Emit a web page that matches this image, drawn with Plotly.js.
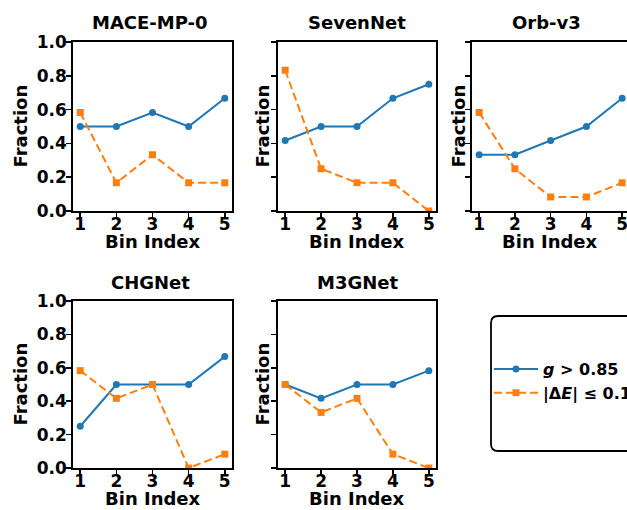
<!DOCTYPE html>
<html>
<head>
<meta charset="utf-8">
<script src="https://cdn.plot.ly/plotly-3.0.1.min.js"></script>
<style>
html, body { margin: 0; padding: 0; overflow: hidden; background: #fff; }
#chart { width: 627px; height: 510px; }
</style>
</head>
<body>
<div id="chart"></div>
<script>
// ---- data ----
const binIndex = [1, 2, 3, 4, 5];
const models = ["MACE-MP-0", "SevenNet", "Orb-v3", "CHGNet", "M3GNet"];
const gFracMACE     = [0.5, 0.5, 0.583, 0.5, 0.667];
const eFracMACE     = [0.583, 0.167, 0.333, 0.167, 0.167];
const gFracSevenNet = [0.417, 0.5, 0.5, 0.667, 0.75];
const eFracSevenNet = [0.833, 0.25, 0.167, 0.167, 0.0];
const gFracOrb      = [0.333, 0.333, 0.417, 0.5, 0.667];
const eFracOrb      = [0.583, 0.25, 0.083, 0.083, 0.167];
const gFracCHGNet   = [0.25, 0.5, 0.5, 0.5, 0.667];
const eFracCHGNet   = [0.583, 0.417, 0.5, 0.0, 0.083];
const gFracM3GNet   = [0.5, 0.417, 0.5, 0.5, 0.583];
const eFracM3GNet   = [0.5, 0.333, 0.417, 0.083, 0.0];
const yTickVals = [0, 0.2, 0.4, 0.6, 0.8, 1.0];
const yTickText = ["0.0", "0.2", "0.4", "0.6", "0.8", "1.0"];
const legendG = "<i>g</i> > 0.85";
const legendE = "|Δ<i>E</i>| ≤ 0.1 eV/atom";

const gSeries = [gFracMACE, gFracSevenNet, gFracOrb, gFracCHGNet, gFracM3GNet];
const eSeries = [eFracMACE, eFracSevenNet, eFracOrb, eFracCHGNet, eFracM3GNet];

// ---- layout geometry (pixels) ----
const W = 627, H = 510;
const panels = [
  {l: 73,  r: 232, t: 42,  b: 211, ylab: true,  fx: 20,  xmax: 5.2,   mirror: true},
  {l: 278, r: 436, t: 42,  b: 211, ylab: false, fx: 262, xmax: 5.2,   mirror: true},
  {l: 472, r: 627, t: 42,  b: 211, ylab: false, fx: 458, xmax: 5.136, mirror: false},
  {l: 73,  r: 232, t: 301, b: 468, ylab: true,  fx: 20,  xmax: 5.2,   mirror: true},
  {l: 278, r: 436, t: 301, b: 468, ylab: false, fx: 262, xmax: 5.2,   mirror: true}
];
const titleX = [150, 357, 546, 150, 357];

const BLUE = "#1f77b4", ORANGE = "#ff7f0e";
const FONT = "DejaVu Sans, Arial, sans-serif";
const px = v => v / W, py = v => 1 - v / H;

const traces = [];
const layout = {
  width: W, height: H,
  margin: {l: 0, r: 0, t: 0, b: 0, autoexpand: false},
  paper_bgcolor: "#fff", plot_bgcolor: "#fff",
  font: {family: FONT, color: "#000"},
  showlegend: true,
  legend: {
    x: px(489), y: py(352), xanchor: "left", yanchor: "top",
    bgcolor: "rgba(0,0,0,0)", borderwidth: 0,
    font: {family: FONT, size: 16, weight: "bold", color: "#000"},
    tracegroupgap: 0, itemwidth: 44
  },
  annotations: [],
  shapes: []
};

panels.forEach((p, i) => {
  const k = i + 1;
  const xa = "xaxis" + (k === 1 ? "" : k), ya = "yaxis" + (k === 1 ? "" : k);
  const xr = "x" + (k === 1 ? "" : k), yr = "y" + (k === 1 ? "" : k);
  layout[xa] = {
    domain: [px(p.l), px(p.r)], anchor: yr, range: [0.8, p.xmax],
    tickvals: binIndex, ticktext: binIndex.map(String),
    ticks: "outside", ticklen: 5, tickwidth: 1.5, tickcolor: "#000",
    ticklabelstandoff: -8, ticklabeloverflow: "allow",
    showline: true, linewidth: 1.8, linecolor: "#000", mirror: true,
    showgrid: false, zeroline: false, automargin: false,
    tickfont: {family: FONT, size: 17, weight: "bold", color: "#000"}
  };
  layout[ya] = {
    domain: [py(p.b), py(p.t)], anchor: xr, range: [0, 1],
    tickvals: yTickVals, ticktext: yTickText, showticklabels: p.ylab,
    ticks: "outside", ticklen: 5, tickwidth: 1.5, tickcolor: "#000",
    ticklabelstandoff: -4, ticklabeloverflow: "allow",
    showline: true, linewidth: 1.8, linecolor: "#000", mirror: p.mirror,
    showgrid: false, zeroline: false, automargin: false,
    tickfont: {family: FONT, size: 17, weight: "bold", color: "#000"}
  };
  traces.push({
    type: "scatter", mode: "lines+markers", x: binIndex, y: gSeries[i],
    xaxis: xr, yaxis: yr, name: legendG, legendgroup: "g", showlegend: i === 0,
    line: {color: BLUE, width: 2},
    marker: {color: BLUE, size: 7, symbol: "circle"}
  });
  traces.push({
    type: "scatter", mode: "lines+markers", x: binIndex, y: eSeries[i],
    xaxis: xr, yaxis: yr, name: legendE, legendgroup: "e", showlegend: i === 0,
    line: {color: ORANGE, width: 2, dash: "8px,4px"},
    marker: {color: ORANGE, size: 7, symbol: "square"}
  });
  layout.annotations.push({
    text: models[i], xref: "paper", yref: "paper",
    x: px(titleX[i]), y: py(p.t - 19), xanchor: "center", yanchor: "middle",
    showarrow: false, font: {family: FONT, size: 18, weight: "bold", color: "#000"}
  });
  layout.annotations.push({
    text: "Bin Index", xref: "paper", yref: "paper",
    x: px((p.l + p.r) / 2), y: py(p.b + 30), xanchor: "center", yanchor: "middle",
    showarrow: false, font: {family: FONT, size: 18, weight: "bold", color: "#000"}
  });
  layout.annotations.push({
    text: "Fraction", xref: "paper", yref: "paper", textangle: -90,
    x: px(p.fx), y: py((p.t + p.b) / 2), xanchor: "center", yanchor: "middle",
    showarrow: false, font: {family: FONT, size: 18, weight: "bold", color: "#000"}
  });
});

// rounded legend frame
(function () {
  const x0 = 491, x1 = 700, y0 = 316, y1 = 451, r = 7;
  const path = [
    `M ${px(x0 + r)} ${py(y0)}`,
    `L ${px(x1 - r)} ${py(y0)}`,
    `Q ${px(x1)} ${py(y0)} ${px(x1)} ${py(y0 + r)}`,
    `L ${px(x1)} ${py(y1 - r)}`,
    `Q ${px(x1)} ${py(y1)} ${px(x1 - r)} ${py(y1)}`,
    `L ${px(x0 + r)} ${py(y1)}`,
    `Q ${px(x0)} ${py(y1)} ${px(x0)} ${py(y1 - r)}`,
    `L ${px(x0)} ${py(y0 + r)}`,
    `Q ${px(x0)} ${py(y0)} ${px(x0 + r)} ${py(y0)}`,
    "Z"
  ].join(" ");
  layout.shapes.push({
    type: "path", xref: "paper", yref: "paper", path: path,
    line: {color: "#000", width: 1.8}, fillcolor: "rgba(0,0,0,0)", layer: "below"
  });
})();

Plotly.newPlot("chart", traces, layout, {displayModeBar: false, staticPlot: true});
</script>
</body>
</html>
